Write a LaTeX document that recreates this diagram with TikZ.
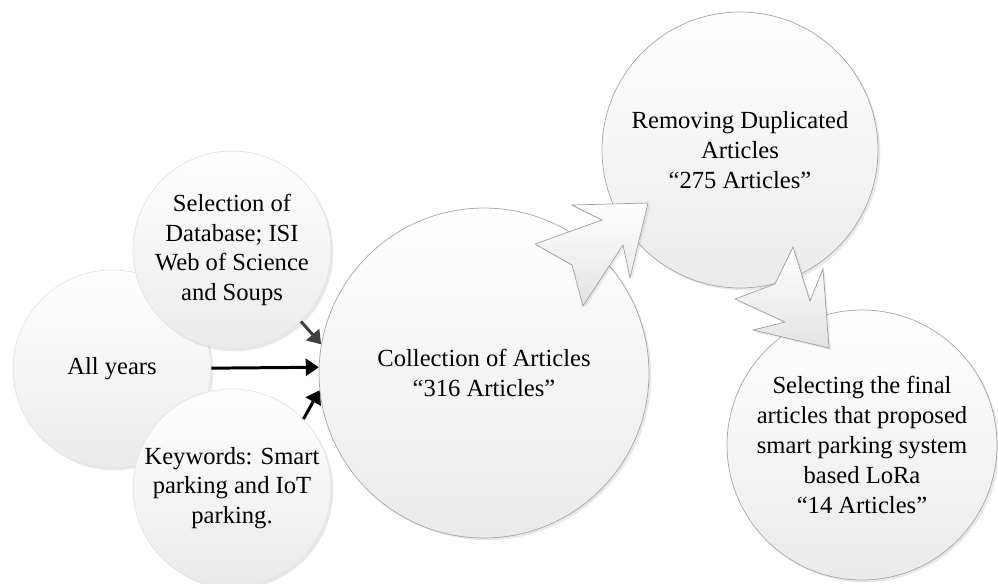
\documentclass[tikz,border=0pt]{standalone}
\usepackage{fontspec}
\setmainfont{Liberation Serif}
\usetikzlibrary{arrows.meta,shadows}
\tikzset{bubble/.style = {shape=circle,draw=gray!70,top color=white,bottom color=gray!16,align=center,inner sep=0pt,font=\fontsize{14}{17}\selectfont,drop shadow={opacity=0.18,shadow xshift=1.3pt,shadow yshift=-1.3pt}}}
\tikzset{small/.style = {bubble,draw=gray!22,minimum size=3.96cm}}
\tikzset{edge/.style = {-{Triangle[length=2.6mm,width=3.4mm]},line width=1.7pt}}
\tikzset{bigarrow/.style = {draw=gray!75,top color=white,bottom color=gray!22,line join=miter,drop shadow={opacity=0.15,shadow xshift=1.2pt,shadow yshift=-1.2pt}}}

\begin{document}
\begin{tikzpicture}[x=0.02cm,y=-0.02cm]
  \useasboundingbox (0,0) rectangle (998,583);

  \node[small] (years) at (112,369) {All years};
  \node[small] (db) at (232,250) {Selection of\\Database; ISI\\Web of Science\\and Soups};
  \node[small] (kw) at (232,488) {Keywords: Smart\\parking and IoT\\parking.};
  \node[bubble,minimum size=6.6cm] (coll) at (484,373) {Collection of Articles\\“316 Articles”};
  \node[bubble,minimum size=5.52cm] (dup) at (740,150) {Removing Duplicated\\Articles\\“275 Articles”};
  \node[bubble,minimum size=5.4cm] (final) at (862,445) {Selecting the final\\articles that proposed\\smart parking system\\based LoRa\\“14 Articles”};

  \draw[edge,black!75] (db.-46) -- (coll.170);
  \draw[edge] (years) -- (coll.178);
  \draw[edge] (kw.44) -- (coll.186);

  % block arrows between the big circles
  \draw[bigarrow] (648,203) -- (630,278) -- (623,245) -- (583,306) -- (572,265)
    -- (535,244) -- (602,220) -- (572,205) -- cycle;
  \draw[bigarrow] (829,348) -- (753,330) -- (785,322) -- (735,299) -- (775,284)
    -- (793,247) -- (810,301) -- (823,269) -- cycle;
\end{tikzpicture}
\end{document}
